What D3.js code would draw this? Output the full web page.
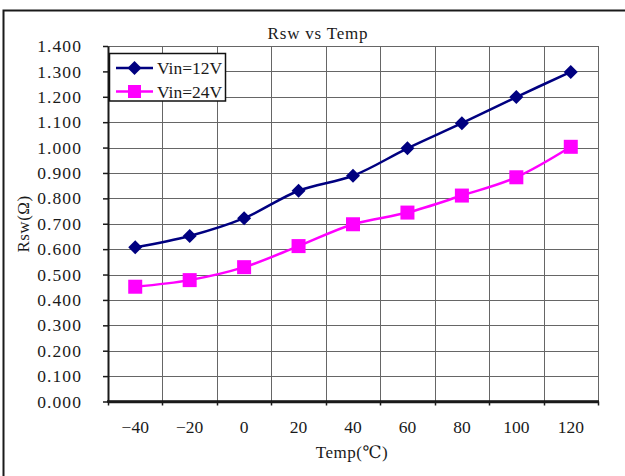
<!DOCTYPE html>
<html><head><meta charset="utf-8">
<script src="https://cdn.jsdelivr.net/npm/d3@7"></script>
<style>
html,body{margin:0;padding:0;background:#fff;}
svg{display:block;}
text{font-family:"Liberation Serif","DejaVu Serif",serif;fill:#1a1a1a;}
</style></head>
<body>
<svg id="c" width="625" height="476"></svg>
<script>
const categories = [-40, -20, 0, 20, 40, 60, 80, 100, 120];
const vin12 = [0.607, 0.652, 0.722, 0.830, 0.889, 0.997, 1.096, 1.199, 1.298];
const vin24 = [0.452, 0.478, 0.529, 0.612, 0.698, 0.744, 0.811, 0.883, 1.003];
const yTicks = [0, 0.1, 0.2, 0.3, 0.4, 0.5, 0.6, 0.7, 0.8, 0.9, 1.0, 1.1, 1.2, 1.3, 1.4];
const seriesNames = ["Vin=12V", "Vin=24V"];
const seriesColors = ["#000080", "#ff00ff"];
const titleText = "Rsw vs Temp";
const xTitle = "Temp(℃)";
const yTitle = "Rsw(Ω)";

const svg = d3.select("#c");
const L = 108, R = 598, T = 46, B = 401.5;

// outer chart border
svg.append("rect").attr("x", 3.5).attr("y", 10.5).attr("width", 660).attr("height", 500)
  .attr("fill", "#fff").attr("stroke", "#1a1a1a").attr("stroke-width", 2);

const x = d3.scaleBand().domain(categories).range([L, R]).padding(0);
const y = d3.scaleLinear().domain([0, 1.4]).range([B, T]);

const grid = svg.append("g");
grid.selectAll("line.h").data(yTicks).join("line")
  .attr("x1", L).attr("x2", R)
  .attr("y1", d => Math.round(y(d)) + 0.5).attr("y2", d => Math.round(y(d)) + 0.5)
  .attr("stroke", "#666").attr("stroke-width", 1);
const bounds = categories.map(c => x(c)).concat([x.range()[1]]);
grid.selectAll("line.v").data(bounds).join("line")
  .attr("x1", d => Math.round(d) + 0.5).attr("x2", d => Math.round(d) + 0.5)
  .attr("y1", T).attr("y2", B)
  .attr("stroke", "#666").attr("stroke-width", 1);

// x ticks at boundaries
svg.append("g").selectAll("line").data(bounds).join("line")
  .attr("x1", d => Math.round(d) + 0.5).attr("x2", d => Math.round(d) + 0.5)
  .attr("y1", B).attr("y2", B + 4).attr("stroke", "#1a1a1a").attr("stroke-width", 1.5);

// y axis
const yAxis = svg.append("g").attr("transform", `translate(${L},0)`)
  .call(d3.axisLeft(y).tickValues(yTicks).tickFormat(d3.format(".3f")).tickSizeInner(5).tickSizeOuter(0).tickPadding(21));
yAxis.select(".domain").attr("stroke", "#1a1a1a").attr("stroke-width", 2);
yAxis.selectAll(".tick line").attr("stroke", "#1a1a1a").attr("stroke-width", 1.5);
yAxis.selectAll(".tick text").attr("font-size", 17.5).attr("fill", "#1a1a1a")
  .attr("font-family", "Liberation Serif").style("letter-spacing", "1.1px");

// x axis labels
const xAxis = svg.append("g").attr("transform", `translate(0,${B})`)
  .call(d3.axisBottom(x).tickSize(0).tickPadding(19).tickFormat(d => d < 0 ? "\u2212" + Math.abs(d) : String(d)));
xAxis.select(".domain").attr("stroke", "#1a1a1a").attr("stroke-width", 2.5);
xAxis.selectAll(".tick text").attr("font-size", 17.5).attr("fill", "#1a1a1a").attr("font-family", "Liberation Serif");

svg.append("line").attr("x1", L - 1).attr("x2", R + 1).attr("y1", B).attr("y2", B)
  .attr("stroke", "#1a1a1a").attr("stroke-width", 2.5);

// titles
svg.append("text").attr("x", 318).attr("y", 39).attr("text-anchor", "middle")
  .attr("font-size", 17).style("letter-spacing", "0.8px").text(titleText);
svg.append("text").attr("x", 352).attr("y", 458).attr("text-anchor", "middle")
  .attr("font-size", 17).style("letter-spacing", "0.5px").text(xTitle);
svg.append("text").attr("transform", "translate(29,224) rotate(-90)").attr("text-anchor", "middle")
  .attr("font-size", 17).style("letter-spacing", "0.5px").text(yTitle);

// lines
const series = [vin12, vin24];
const line = d3.line().x((d, i) => x(categories[i]) + x.bandwidth() / 2).y(d => y(d))
  .curve(d3.curveCatmullRom.alpha(0.5));
series.forEach((s, k) => {
  svg.append("path").datum(s).attr("d", line).attr("fill", "none")
    .attr("stroke", seriesColors[k]).attr("stroke-width", 2.5);
});
// markers
const diamondPath = d3.symbol().type(d3.symbolSquare).size(98)();
svg.append("g").selectAll("path").data(vin12).join("path")
  .attr("d", diamondPath)
  .attr("transform", (d, i) => `translate(${x(categories[i]) + x.bandwidth() / 2},${y(d)}) rotate(45)`)
  .attr("fill", seriesColors[0]);
svg.append("g").selectAll("rect").data(vin24).join("rect")
  .attr("x", (d, i) => x(categories[i]) + x.bandwidth() / 2 - 7)
  .attr("y", d => y(d) - 7).attr("width", 14).attr("height", 14)
  .attr("fill", seriesColors[1]);

// legend
const lg = svg.append("g");
lg.append("rect").attr("x", 109.5).attr("y", 53.5).attr("width", 116).attr("height", 47.5)
  .attr("fill", "#fff").attr("stroke", "#111").attr("stroke-width", 1.5);
seriesNames.forEach((n, k) => {
  const cy = 68 + k * 23.5;
  lg.append("line").attr("x1", 116).attr("x2", 153).attr("y1", cy).attr("y2", cy)
    .attr("stroke", seriesColors[k]).attr("stroke-width", 2.5);
  if (k === 0) {
    lg.append("path").attr("d", diamondPath)
      .attr("transform", `translate(134.5,${cy}) rotate(45)`).attr("fill", seriesColors[0]);
  } else {
    lg.append("rect").attr("x", 128).attr("y", cy - 6.5).attr("width", 13).attr("height", 13)
      .attr("fill", seriesColors[1]);
  }
  lg.append("text").attr("x", 157).attr("y", cy).attr("dy", "0.35em")
    .attr("font-size", 17.5).text(n);
});
</script>
</body></html>
